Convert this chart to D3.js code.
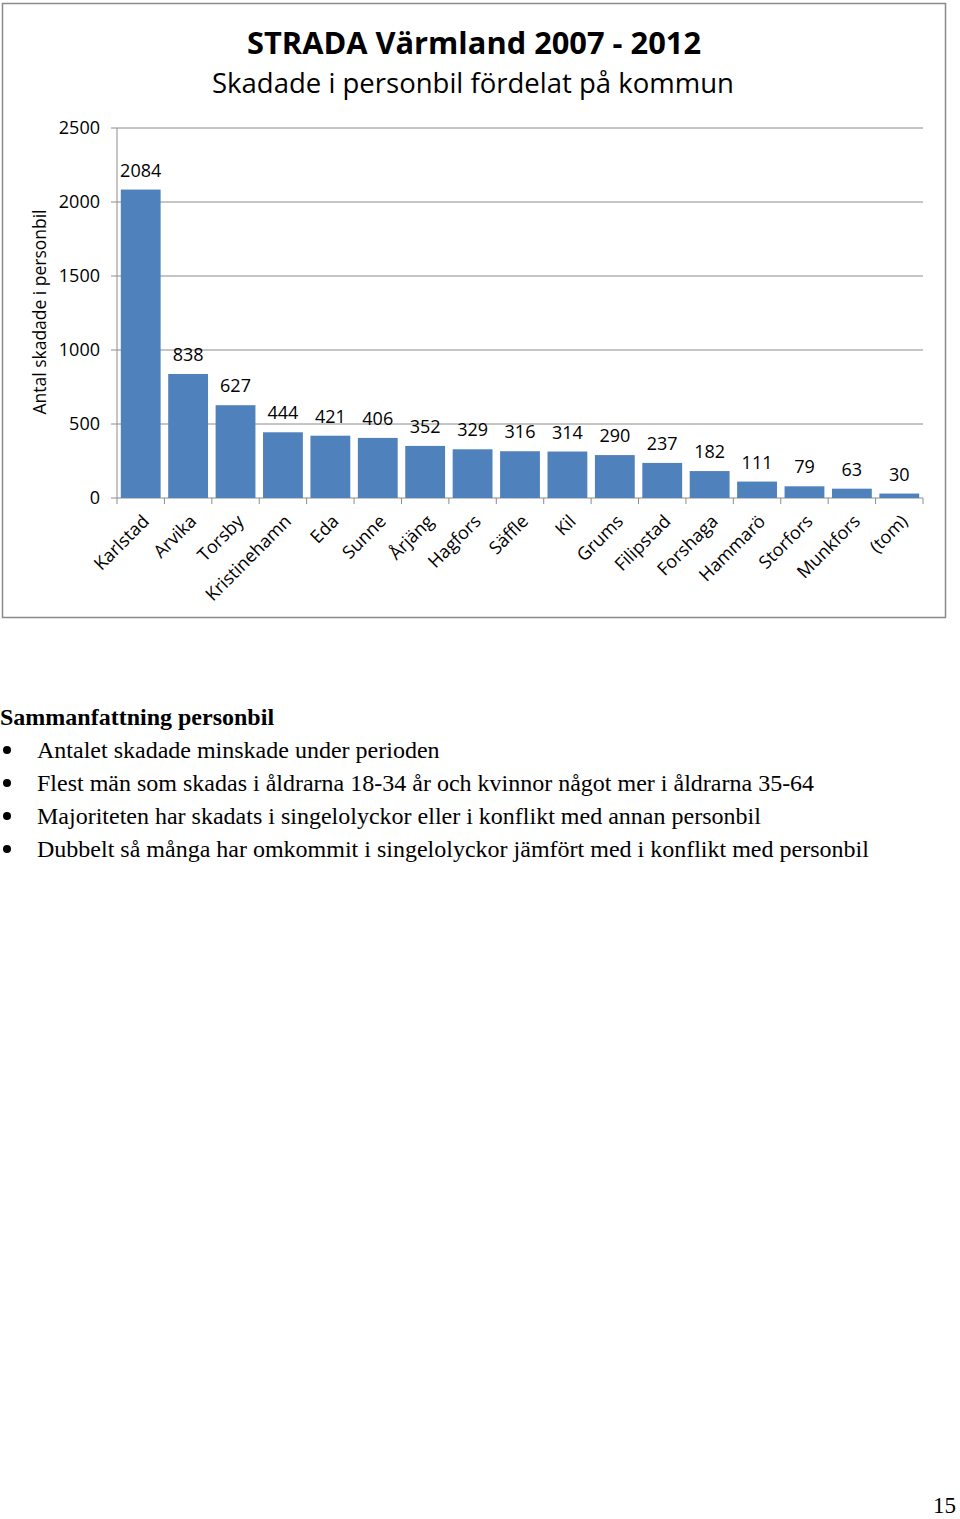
<!DOCTYPE html>
<html><head><meta charset="utf-8">
<script src="https://cdn.jsdelivr.net/npm/d3@7"></script>
<style>body{margin:0;background:#fff}svg{display:block}</style>
</head><body>
<script>
const categories = ["Karlstad","Arvika","Torsby","Kristinehamn","Eda","Sunne","Årjäng","Hagfors","Säffle","Kil","Grums","Filipstad","Forshaga","Hammarö","Storfors","Munkfors","(tom)"];
const values = [2084,838,627,444,421,406,352,329,316,314,290,237,182,111,79,63,30];
const yTicks = [0,500,1000,1500,2000,2500];
const title = "STRADA Värmland 2007 - 2012";
const subtitle = "Skadade i personbil fördelat på kommun";
const yLabel = "Antal skadade i personbil";
const heading = "Sammanfattning personbil";
const bullets = [
 "Antalet skadade minskade under perioden",
 "Flest män som skadas i åldrarna 18-34 år och kvinnor något mer i åldrarna 35-64",
 "Majoriteten har skadats i singelolyckor eller i konflikt med annan personbil",
 "Dubbelt så många har omkommit i singelolyckor jämfört med i konflikt med personbil"
];
const pageNo = "15";

const W = 960, H = 1519;
const svg = d3.select("body").append("svg").attr("width", W).attr("height", H);
const sans = "'Open Sans', sans-serif";
const serif = "'Liberation Serif', 'Times New Roman', serif";

// chart border
svg.append("rect").attr("x",2.5).attr("y",3.5).attr("width",943).attr("height",614)
  .attr("fill","#fff").attr("stroke","#8a8a8a").attr("stroke-width",1.5);

svg.append("text").attr("x",474).attr("y",54).attr("text-anchor","middle")
  .attr("font-family",sans).attr("font-weight",700).attr("font-size",31)
  .attr("textLength",454).attr("lengthAdjust","spacingAndGlyphs").attr("fill","#000").text(title);
svg.append("text").attr("x",473).attr("y",93).attr("text-anchor","middle")
  .attr("font-family",sans).attr("font-size",28)
  .attr("textLength",522).attr("lengthAdjust","spacingAndGlyphs").attr("fill","#000").text(subtitle);

const x = d3.scaleBand().domain(categories).range([117,923]).paddingInner(0.16).paddingOuter(0.08);
const y = d3.scaleLinear().domain([0,2500]).range([498,128]);

// gridlines + y ticks
const g = svg.append("g");
g.selectAll("line.grid").data(yTicks).join("line").attr("class","grid")
  .attr("x1",111).attr("x2",923).attr("y1",d=>y(d)).attr("y2",d=>y(d))
  .attr("stroke","#8c8c8c").attr("stroke-width",1);
g.selectAll("text.yt").data(yTicks).join("text").attr("class","yt")
  .attr("x",100).attr("y",d=>y(d)).attr("dy","0.36em").attr("text-anchor","end")
  .attr("font-family",sans).attr("font-size",18).attr("fill","#000").text(d=>d);
// y axis line
g.append("line").attr("x1",117).attr("x2",117).attr("y1",y(2500)).attr("y2",498)
  .attr("stroke","#8c8c8c");

// x ticks at band boundaries
const bounds = d3.range(categories.length+1).map(i => 117 + i*(806/categories.length));
g.selectAll("line.xt").data(bounds).join("line").attr("class","xt")
  .attr("x1",d=>d).attr("x2",d=>d).attr("y1",498).attr("y2",504)
  .attr("stroke","#8c8c8c");

// bars
const data = categories.map((c,i)=>({c, v: values[i]}));
g.selectAll("rect.bar").data(data).join("rect").attr("class","bar")
  .attr("x",d=>x(d.c)).attr("width",x.bandwidth())
  .attr("y",d=>y(d.v)).attr("height",d=>498-y(d.v)).attr("fill","#4f81bd");
g.selectAll("text.val").data(data).join("text").attr("class","val")
  .attr("x",d=>x(d.c)+x.bandwidth()/2).attr("y",d=>y(d.v)-13)
  .attr("text-anchor","middle").attr("font-family",sans).attr("font-size",18).attr("fill","#000")
  .text(d=>d.v);

// x labels
g.selectAll("text.xl").data(data).join("text").attr("class","xl")
  .attr("transform",d=>`translate(${x(d.c)+x.bandwidth()/2+5},${518}) rotate(-45)`)
  .attr("text-anchor","end").attr("dy","0.35em")
  .attr("font-family",sans).attr("font-size",18).attr("fill","#000").text(d=>d.c);

// y label
svg.append("text").attr("transform","translate(46,312) rotate(-90)")
  .attr("text-anchor","middle").attr("font-family",sans).attr("font-size",18)
  .attr("textLength",205).attr("lengthAdjust","spacingAndGlyphs").attr("fill","#000").text(yLabel);

// summary text
svg.append("text").attr("x",0).attr("y",725).attr("font-family",serif).attr("font-weight",700)
  .attr("font-size",24).attr("fill","#000").text(heading);
const bl = svg.append("g");
bl.selectAll("text.b").data(bullets).join("text").attr("class","b")
  .attr("x",37).attr("y",(d,i)=>758+i*33).attr("font-family",serif).attr("font-size",24)
  .attr("fill","#000").text(d=>d);
bl.selectAll("circle.dot").data(bullets).join("circle").attr("class","dot")
  .attr("cx",7).attr("cy",(d,i)=>750+i*33).attr("r",4).attr("fill","#000");

svg.append("text").attr("x",956).attr("y",1513).attr("text-anchor","end").attr("font-family",serif)
  .attr("font-size",23).attr("fill","#000").text(pageNo);
</script>
</body></html>
